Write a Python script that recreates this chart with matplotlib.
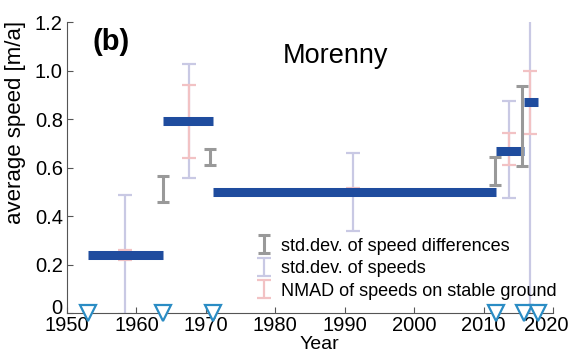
import numpy as np
import matplotlib
matplotlib.use('Agg')
import matplotlib.pyplot as plt
from matplotlib.transforms import ScaledTranslation

plt.rcParams['font.family'] = ['Liberation Sans', 'DejaVu Sans']

# mean speed per period
per_start = np.array([1953.0, 1963.8, 1971.0, 2011.8, 2015.9])
per_end = np.array([1963.8, 1971.0, 2011.8, 2015.9, 2017.8])
per_speed = np.array([0.24, 0.79, 0.50, 0.67, 0.87])

# std.dev. of speeds (lavender)
sd_x = np.array([1958.3, 1967.5, 1991.2, 2013.6, 2016.7])
sd_y = np.array([0.24, 0.79, 0.50, 0.676, 0.87])
sd_err = np.array([0.245, 0.235, 0.16, 0.2, 1.0])

# NMAD of speeds on stable ground (pink)
nmad_err = np.array([0.02, 0.15, 0.015, 0.066, 0.13])

# std.dev. of speed differences (gray)
sdd_x = np.array([1963.8, 1970.6, 2011.7, 2015.6])
sdd_y = np.array([0.512, 0.643, 0.585, 0.77])
sdd_err = np.array([0.055, 0.033, 0.058, 0.165])

# image acquisition years
acq_years = np.array([1953.0, 1963.8, 1971.0, 2011.8, 2015.9, 2017.8])

c_bar = '#1f4c9e'
c_sd = '#c9c9e4'
c_nmad = '#f2c2c4'
c_sdd = '#999999'
c_tri = '#2a8cc4'

fig = plt.figure(figsize=(5.73, 3.55), dpi=100)
ax = fig.add_axes([0.117, 0.118, 0.848, 0.82])

h_sd = ax.errorbar(sd_x, sd_y, yerr=sd_err, fmt='none', ecolor=c_sd, elinewidth=1.6,
                   capsize=5, capthick=1.6, zorder=2)
h_nmad = ax.errorbar(sd_x, sd_y, yerr=nmad_err, fmt='none', ecolor=c_nmad, elinewidth=1.6,
                     capsize=5, capthick=1.6, zorder=2.5)
ax.hlines(per_speed, per_start, per_end, colors=c_bar, linewidth=6.5, zorder=3)
h_sdd = ax.errorbar(sdd_x, sdd_y, yerr=sdd_err, fmt='none', ecolor=c_sdd, elinewidth=2.2,
                    capsize=4, capthick=2.2, zorder=4)
ax.plot(acq_years, np.zeros_like(acq_years), 'v', markersize=11, markerfacecolor='white',
        markeredgecolor=c_tri, markeredgewidth=1.6, clip_on=False, zorder=5)

ax.set_xlim(1950, 2020)
ax.set_ylim(0, 1.2)
ax.set_xticks(np.arange(1950, 2021, 10))
ax.set_yticks([0, 0.2, 0.4, 0.6, 0.8, 1.0, 1.2])
ax.set_yticklabels(['0', '0.2', '0.4', '0.6', '0.8', '1.0', '1.2'])
ax.tick_params(direction='in', labelsize=14.5, length=4, color='#555555')
ax.tick_params(axis='x', pad=2)
ax.tick_params(axis='y', pad=3)
# lift the "0" a little and pull "2020" inwards, like the original
lab0 = ax.get_yticklabels()[0]
lab0.set_transform(lab0.get_transform() + ScaledTranslation(0, 5 / 72, fig.dpi_scale_trans))
lab_end = ax.get_xticklabels()[-1]
lab_end.set_transform(lab_end.get_transform() + ScaledTranslation(-5 / 72, 0, fig.dpi_scale_trans))
for s in ['top', 'right']:
    ax.spines[s].set_visible(False)
for s in ['left', 'bottom']:
    ax.spines[s].set_color('#555555')

ax.set_xlabel('Year', fontsize=14)
ax.xaxis.set_label_coords(0.52, -0.078)
ax.set_ylabel('average speed [m/a]', fontsize=16)
ax.yaxis.set_label_coords(-0.085, 0.655)

ax.text(1953.6, 1.085, '(b)', fontsize=21, fontweight='bold', va='baseline')
ax.text(1988.7, 1.03, 'Morenny', fontsize=19.5, ha='center', va='baseline')

ax.legend([h_sdd, h_sd, h_nmad],
          ['std.dev. of speed differences', 'std.dev. of speeds', 'NMAD of speeds on stable ground'],
          loc='lower left', bbox_to_anchor=(0.36, 0.0), frameon=False, fontsize=13,
          handlelength=0.9, handletextpad=0.5, labelspacing=0.3, borderaxespad=0.35)

fig.savefig('out.png', dpi=100)
